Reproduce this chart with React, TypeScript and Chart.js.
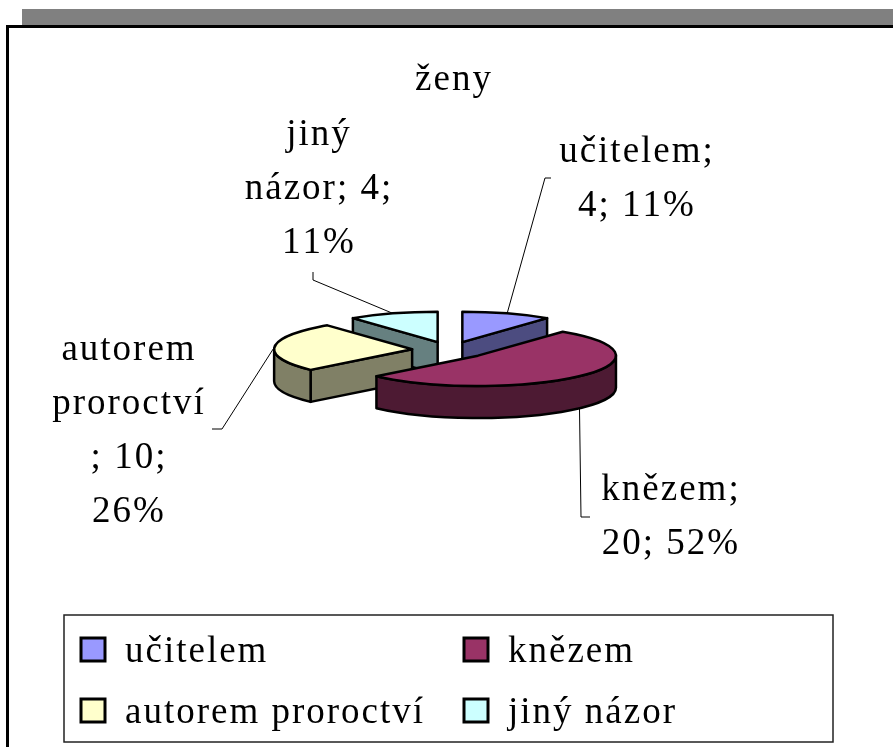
import React, { useEffect, useRef } from 'react';
import { Chart, registerables } from 'chart.js';

Chart.register(...registerables);

// ---- data ----
const chartTitle = 'ženy';
const categories = ['učitelem', 'knězem', 'autorem proroctví', 'jiný názor'];
const values = [4, 20, 10, 4];
const percentLabels = ['11%', '52%', '26%', '11%'];
const topColors = ['#9999FF', '#993366', '#FFFFCC', '#CCFFFF'];
const sideColors = ['#4C4C80', '#4D1A33', '#808066', '#668080'];

// ---- layout / style ----
const W = 893;
const H = 747;
const FONT = '37px "Liberation Serif", "Times New Roman", serif';
const SPACING = 2;
const LINE_H = 54;
const TILT = 0.22;
const DEPTH = 32;
const EXPLODE = 38;
const PIE_RADIUS = 138;

// label placement: center x, first baseline y, leader elbow points, wrap mode
const labelLayout = [
  { cx: 636, y: 162, elbow: [[551, 178], [545, 178]], wrap: 'semi' },
  { cx: 670, y: 500, elbow: [[590, 517], [581, 517]], wrap: 'semi' },
  { cx: 128, y: 360, elbow: [[212, 429], [222, 429]], wrap: 'words' },
  { cx: 318, y: 145, elbow: [[313, 272], [313, 280]], wrap: 'mixed' },
];

const legendBox = { x: 64, y: 615, w: 769, h: 127 };
const legendCols = [81, 464];
const legendRows = [638, 699];

function buildLines(i: number): string[] {
  const cat = categories[i];
  const v = values[i];
  const p = percentLabels[i];
  const words = cat.split(' ');
  const mode = labelLayout[i].wrap;
  if (mode === 'semi') return [`${cat};`, `${v}; ${p}`];
  if (mode === 'words') return [...words, `; ${v};`, p];
  return [words[0], `${words.slice(1).join(' ')}; ${v};`, p];
}

// draw text with extra letter spacing (canvas letterSpacing switches fonts in this browser)
function spacedText(ctx: CanvasRenderingContext2D, text: string, x: number, y: number, align: 'left' | 'center') {
  const chars = Array.from(text);
  const widths = chars.map((c) => ctx.measureText(c).width);
  const total = widths.reduce((a, b) => a + b, 0) + SPACING * (chars.length - 1);
  let cx = align === 'center' ? x - total / 2 : x;
  ctx.textAlign = 'left';
  chars.forEach((c, i) => {
    ctx.fillText(c, cx, y);
    cx += widths[i] + SPACING;
  });
}

function geom(arc: any) {
  const s = arc.startAngle;
  const e = arc.endAngle;
  const R = arc.outerRadius;
  const m = (s + e) / 2;
  const ox = arc.x + EXPLODE * Math.cos(m);
  const oy = arc.y + EXPLODE * Math.sin(m) * TILT;
  return { s, e, R, m, ox, oy };
}

function pt(g: any, a: number, dz = 0): [number, number] {
  return [g.ox + g.R * Math.cos(a), g.oy + g.R * TILT * Math.sin(a) + dz];
}

function drawSlice(ctx: CanvasRenderingContext2D, arc: any, top: string, side: string) {
  const g = geom(arc);
  const face = (a: number) => {
    const p = pt(g, a);
    ctx.beginPath();
    ctx.moveTo(g.ox, g.oy);
    ctx.lineTo(p[0], p[1]);
    ctx.lineTo(p[0], p[1] + DEPTH);
    ctx.lineTo(g.ox, g.oy + DEPTH);
    ctx.closePath();
    ctx.fillStyle = side;
    ctx.fill();
    ctx.stroke();
  };
  if (Math.cos(g.s) < -1e-6) face(g.s);
  if (Math.cos(g.e) > 1e-6) face(g.e);
  const a1 = Math.max(g.s, 0);
  const a2 = Math.min(g.e, Math.PI);
  if (a2 > a1) {
    ctx.beginPath();
    ctx.ellipse(g.ox, g.oy, g.R, g.R * TILT, 0, a1, a2);
    ctx.ellipse(g.ox, g.oy + DEPTH, g.R, g.R * TILT, 0, a2, a1, true);
    ctx.closePath();
    ctx.fillStyle = side;
    ctx.fill();
    ctx.stroke();
  }
  ctx.beginPath();
  ctx.moveTo(g.ox, g.oy);
  ctx.ellipse(g.ox, g.oy, g.R, g.R * TILT, 0, g.s, g.e);
  ctx.closePath();
  ctx.fillStyle = top;
  ctx.fill();
  ctx.stroke();
}

const framePlugin = {
  id: 'frame',
  beforeDraw(chart: any) {
    const ctx = chart.ctx;
    ctx.save();
    ctx.fillStyle = '#ffffff';
    ctx.fillRect(0, 0, W, H);
    ctx.fillStyle = '#808080';
    ctx.fillRect(22, 9, W - 22, 16);
    ctx.fillStyle = '#000000';
    ctx.fillRect(6, 25, W - 6, 3);
    ctx.fillRect(6, 25, 3, H - 25);
    ctx.restore();
  },
};

const pie3dPlugin = {
  id: 'pie3d',
  beforeDatasetsDraw(chart: any) {
    const ctx = chart.ctx;
    const meta = chart.getDatasetMeta(0);
    const arcs = meta.data;
    const order = arcs
      .map((_: any, i: number) => i)
      .sort((a: number, b: number) => Math.sin(geom(arcs[a]).m) - Math.sin(geom(arcs[b]).m));
    ctx.save();
    ctx.lineWidth = 2.5;
    ctx.lineJoin = 'round';
    ctx.strokeStyle = '#000';
    for (const i of order) drawSlice(ctx, arcs[i], topColors[i], sideColors[i]);
    ctx.restore();
    return false;
  },
};

const textPlugin = {
  id: 'texts',
  afterDraw(chart: any) {
    const ctx = chart.ctx as CanvasRenderingContext2D;
    const meta = chart.getDatasetMeta(0);
    ctx.save();
    ctx.font = FONT;
    ctx.fillStyle = '#000';
    ctx.textBaseline = 'alphabetic';
    spacedText(ctx, chartTitle, 453, 90, 'center');

    // data labels + leaders
    meta.data.forEach((arc: any, i: number) => {
      const lay = labelLayout[i];
      const lines = buildLines(i);
      lines.forEach((ln, k) => spacedText(ctx, ln, lay.cx, lay.y + k * LINE_H, 'center'));
      const g = geom(arc);
      const anchor = pt(g, g.m, Math.sin(g.m) > 0.3 ? DEPTH : 0);
      ctx.beginPath();
      ctx.lineWidth = 1;
      ctx.strokeStyle = '#000';
      ctx.moveTo(lay.elbow[0][0], lay.elbow[0][1]);
      ctx.lineTo(lay.elbow[1][0], lay.elbow[1][1]);
      ctx.lineTo(anchor[0], anchor[1]);
      ctx.stroke();
    });

    // legend
    ctx.lineWidth = 1.5;
    ctx.strokeStyle = '#222';
    ctx.strokeRect(legendBox.x, legendBox.y, legendBox.w, legendBox.h);
    categories.forEach((cat, i) => {
      const x = legendCols[i % 2];
      const y = legendRows[Math.floor(i / 2)];
      ctx.fillStyle = topColors[i];
      ctx.fillRect(x, y, 24, 23);
      ctx.lineWidth = 3;
      ctx.strokeStyle = '#000';
      ctx.strokeRect(x, y, 24, 23);
      ctx.fillStyle = '#000';
      spacedText(ctx, cat, x + 44, y + 24, 'left');
    });
    ctx.restore();
  },
};

export default function App() {
  const ref = useRef<HTMLCanvasElement>(null);
  useEffect(() => {
    const canvas = ref.current;
    if (!canvas) return;
    const chart = new Chart(canvas, {
      type: 'pie',
      data: {
        labels: categories,
        datasets: [
          {
            data: values,
            backgroundColor: topColors,
            borderColor: '#000',
            borderWidth: 2,
            radius: PIE_RADIUS,
          } as any,
        ],
      },
      options: {
        responsive: false,
        animation: false,
        devicePixelRatio: 1,
        events: [],
        layout: { padding: { left: 7, right: 0, top: 0, bottom: 47 } },
        plugins: {
          legend: { display: false },
          tooltip: { enabled: false },
          title: { display: false },
        },
      } as any,
      plugins: [framePlugin, pie3dPlugin, textPlugin],
    });
    return () => chart.destroy();
  }, []);
  return (
    <div style={{ position: 'absolute', left: 0, top: 0, width: W, height: H }}>
      <canvas ref={ref} width={W} height={H} style={{ display: 'block' }} />
    </div>
  );
}
